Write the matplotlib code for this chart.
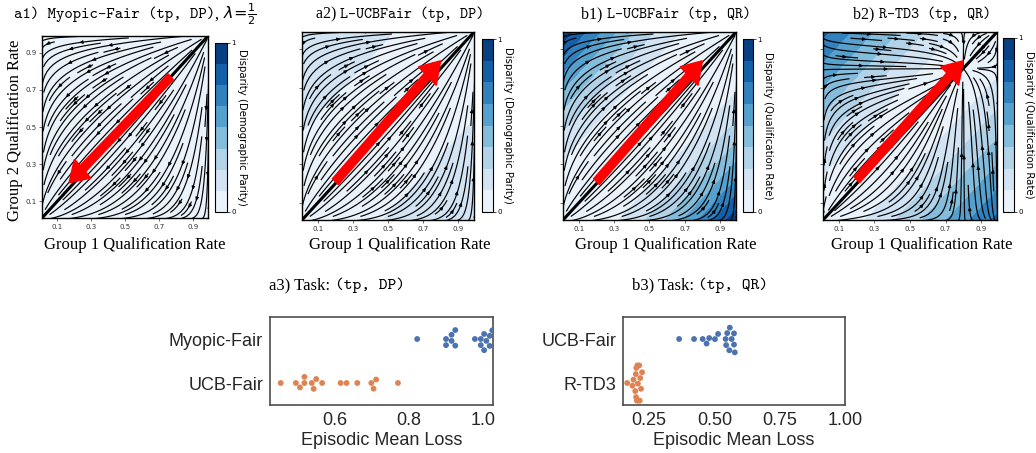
import numpy as np
import matplotlib
matplotlib.use("Agg")
import matplotlib.pyplot as plt
import seaborn as sns
from matplotlib.offsetbox import TextArea, HPacker, AnnotationBbox

W, H = 1036, 453
SERIF = "Liberation Serif"
MONO = "cmtt10"
SANS = "Liberation Sans"
BLUE, ORANGE = "#4C72B0", "#DD8452"

# ---- swarm data (episodic mean loss) ----
a3_labels = ["Myopic-Fair", "UCB-Fair"]
a3_myopic = [0.822, 0.900, 0.900, 0.915, 0.915, 0.925, 0.925, 0.978,
             0.994, 0.994, 1.003, 1.003, 1.009, 1.018, 1.018, 1.025]
a3_ucb = [0.453, 0.494, 0.505, 0.517, 0.517, 0.537, 0.542, 0.549,
          0.565, 0.615, 0.631, 0.660, 0.698, 0.704, 0.711, 0.770]
b3_labels = ["UCB-Fair", "R-TD3"]
b3_ucb = [0.365, 0.422, 0.455, 0.470, 0.480, 0.502, 0.514, 0.543,
          0.545, 0.549, 0.557, 0.559, 0.566, 0.575, 0.575, 0.578]
b3_rtd3 = [0.166, 0.186, 0.190, 0.197, 0.199, 0.200, 0.201, 0.203,
           0.205, 0.207, 0.208, 0.212, 0.214, 0.216, 0.219, 0.223]

# ---- phase-portrait panels ----
PANELS = [
    # key, tail, tip, cbar label
    ("a1", (0.77, 0.77), (0.17, 0.20), "Disparity (Demographic Parity)"),
    ("a2", (0.20, 0.21), (0.80, 0.84), "Disparity (Demographic Parity)"),
    ("b1", (0.20, 0.21), (0.80, 0.84), "Disparity (Qualification Rate)"),
    ("b2", (0.20, 0.22), (0.80, 0.84), "Disparity (Qualification Rate)"),
]
NODE_B2 = 0.8   # stable fixed point of R-TD3 dynamics


def box(l, t, r, b):
    return [l / W, 1 - b / H, (r - l) / W, (b - t) / H]


def field(key, x, y):
    lx, ly = x * np.log(x), y * np.log(y)
    if key == "a1":
        return lx, ly
    if key in ("a2", "b1"):
        return -lx, -ly
    p = NODE_B2
    return x * (1 - x) * (p - x), y * (1 - y) * (p - y)


def disparity(key, x, y):
    d = np.abs(x - y)
    if key == "a1":
        return 0.08 * d
    if key == "a2":
        return 0.07 + 0.12 * d
    if key == "b1":
        return d ** 1.8
    return 0.8 * d ** 1.3


def rich_title(fig, parts, xc, yc):
    areas = []
    for txt, fam, size in parts:
        areas.append(TextArea(txt, textprops=dict(family=fam, size=size, color="black")))
    pack = HPacker(children=areas, align="baseline", pad=0, sep=0)
    ab = AnnotationBbox(pack, (xc / W, 1 - yc / H), xycoords="figure fraction",
                        frameon=False, box_alignment=(0.5, 0.5), pad=0)
    fig.add_artist(ab)


fig = plt.figure(figsize=(W / 100, H / 100), dpi=100)

ax_boxes = [(42, 36, 208, 218), (302, 32, 474, 220), (563, 32, 736, 220), (823, 32, 997, 220)]
cb_boxes = [(215, 43, 227, 212), (482, 39, 493, 212), (743, 39, 753, 212), (1003, 38, 1014, 212)]
centres = [135, 400, 666, 922]
titles = [
    [("a1) Myopic-Fair (tp, DP)", MONO, 11.5), (", ", SERIF, 11.5), (r"$\lambda\!=\!\frac{1}{2}$", SERIF, 11.5)],
    [("a2) ", SERIF, 11.5), ("L-UCBFair (tp, DP)", MONO, 11)],
    [("b1) ", SERIF, 11.5), ("L-UCBFair (tp, QR)", MONO, 11)],
    [("b2) ", SERIF, 11.5), ("R-TD3 (tp, QR)", MONO, 11)],
]

gs = np.linspace(0.002, 0.998, 120)
gx, gy = np.meshgrid(gs, gs)
cg = np.linspace(0, 1, 120)
cx, cy = np.meshgrid(cg, cg)
levels = np.linspace(0, 1, 9)

for i, (key, tail, tip, cblabel) in enumerate(PANELS):
    ax = fig.add_axes(box(*ax_boxes[i]))
    cax = fig.add_axes(box(*cb_boxes[i]))
    cf = ax.contourf(cx, cy, disparity(key, cx, cy), levels=levels, cmap="Blues", vmin=0, vmax=1)
    u, v = field(key, gx, gy)
    ax.streamplot(gx, gy, u, v, color="black", linewidth=0.85, density=1.3,
                  arrowsize=0.45, arrowstyle="-|>")
    ax.plot([0, 1], [0, 1], color="black", lw=2.2)
    ax.arrow(tail[0], tail[1], tip[0] - tail[0], tip[1] - tail[1], width=0.045,
             head_width=0.14, head_length=0.11, length_includes_head=True,
             color="red", zorder=5)
    ax.set_xlim(0.01, 0.99)
    ax.set_ylim(0.01, 0.99)
    ax.set_xticks([0.1, 0.3, 0.5, 0.7, 0.9])
    ax.set_yticks([0.1, 0.3, 0.5, 0.7, 0.9])
    ax.tick_params(labelsize=5, length=2, width=0.5, pad=2, colors="#333333")
    if i > 0:
        ax.set_yticklabels([])
    for s in ax.spines.values():
        s.set_linewidth(1.0)

    cb = fig.colorbar(cf, cax=cax, ticks=[0, 1])
    cb.ax.set_yticklabels(["0", "1"])
    cax.tick_params(labelsize=5, length=2, width=0.5, pad=1)
    cb.outline.set_linewidth(0.8)
    cb.set_label(cblabel, rotation=270, fontsize=7.3, labelpad=1, va="bottom")

    rich_title(fig, titles[i], centres[i], 14)
    fig.text(centres[i] / W, 1 - 245 / H, "Group 1 Qualification Rate", family=SERIF,
             fontsize=12, ha="center", va="center")

fig.text(15 / W, 1 - 130 / H, "Group 2 Qualification Rate", family=SERIF, fontsize=12,
         ha="center", va="center", rotation=90)


def swarm(axbox, labels, first, second, xlim, xticks, title, tx):
    ax = fig.add_axes(box(*axbox))
    vals = list(first) + list(second)
    cats = [labels[0]] * len(first) + [labels[1]] * len(second)
    sns.swarmplot(x=vals, y=cats, hue=cats, palette=[BLUE, ORANGE], size=4.2,
                  orient="h", legend=False, ax=ax, order=labels, hue_order=labels)
    ax.set_xlim(*xlim)
    ax.set_xticks(xticks)
    ax.tick_params(length=0, labelsize=13, colors="#262626", pad=5)
    for t in ax.get_xticklabels() + ax.get_yticklabels():
        t.set_family(SANS)
    ax.set_xlabel("Episodic Mean Loss", family=SANS, fontsize=13, color="#262626", labelpad=2)
    for s in ax.spines.values():
        s.set_linewidth(1.2)
        s.set_color("#4d4d4d")
    rich_title(fig, title, tx, 285)


swarm((270, 317, 493, 405), a3_labels, a3_myopic, a3_ucb, (0.424, 1.027),
      [0.6, 0.8, 1.0], [("a3) Task: ", SERIF, 12), ("(tp, DP)", MONO, 12)], 337)
swarm((623, 317, 845, 405), b3_labels, b3_ucb, b3_rtd3, (0.15, 1.0),
      [0.25, 0.50, 0.75, 1.00], [("b3) Task: ", SERIF, 12), ("(tp, QR)", MONO, 12)], 700)

fig.savefig("out.png", dpi=100)
